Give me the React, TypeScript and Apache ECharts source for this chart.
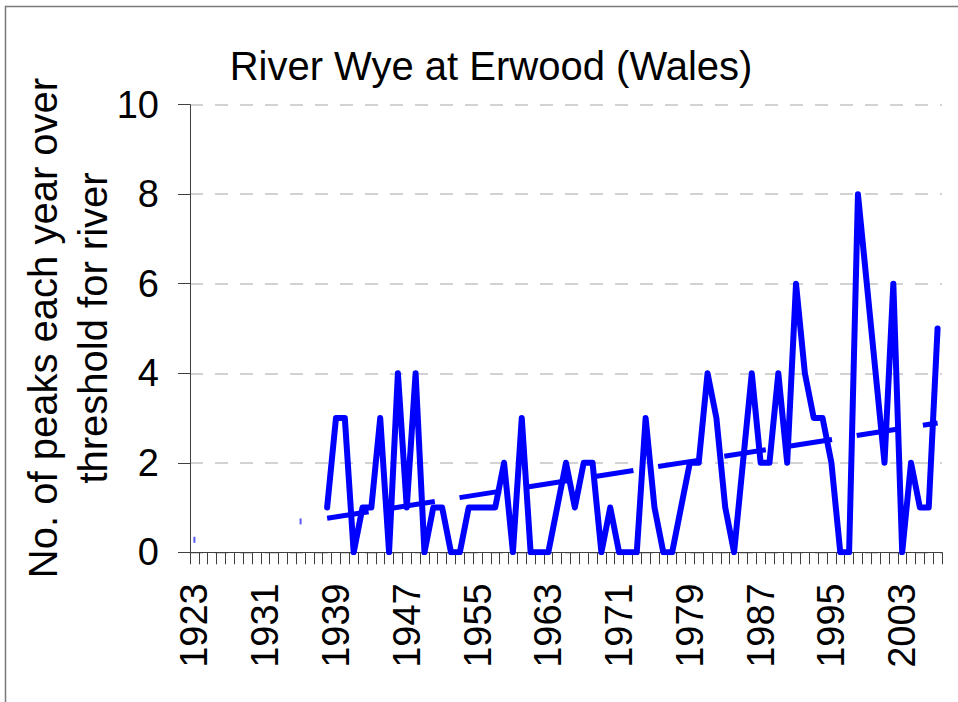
import React, { useEffect, useRef } from "react";
import * as echarts from "echarts";

const FONT = "'Liberation Sans', Arial, sans-serif";

const titleText = "River Wye at Erwood (Wales)";
const yAxisTitle = "No. of peaks each year over\nthreshold for river";

const years = [
  1923, 1924, 1925, 1926, 1927, 1928, 1929, 1930, 1931, 1932, 1933, 1934, 1935, 1936, 1937,
  1938, 1939, 1940, 1941, 1942, 1943, 1944, 1945, 1946, 1947, 1948, 1949, 1950, 1951, 1952,
  1953, 1954, 1955, 1956, 1957, 1958, 1959, 1960, 1961, 1962, 1963, 1964, 1965, 1966, 1967,
  1968, 1969, 1970, 1971, 1972, 1973, 1974, 1975, 1976, 1977, 1978, 1979, 1980, 1981, 1982,
  1983, 1984, 1985, 1986, 1987, 1988, 1989, 1990, 1991, 1992, 1993, 1994, 1995, 1996, 1997,
  1998, 1999, 2000, 2001, 2002, 2003, 2004, 2005, 2006, 2007,
];

// Peaks over threshold, 1938 .. 2007
const peakFirstYear = 1938;
const peaks = [
  1, 3, 3, 0, 1, 1, 3, 0, 4, 1,
  4, 0, 1, 1, 0, 0, 1, 1, 1, 1,
  2, 0, 3, 0, 0, 0, 1, 2, 1, 2,
  2, 0, 1, 0, 0, 0, 3, 1, 0, 0,
  1, 2, 2, 4, 3, 1, 0, 2, 4, 2,
  2, 4, 2, 6, 4, 3, 3, 2, 0, 0,
  8, 6, 4, 2, 6, 0, 2, 1, 1, 5,
];

// Linear trend line end points
const trendYears = [1938, 2007];
const trendValues = [0.76, 2.89];

// Small trend remnants left of the data
const trendMarkYears = [1923, 1935];
const trendMarkValues = [0.28, 0.69];

const yTicks = { min: 0, max: 10, interval: 2 };

export default function App() {
  const ref = useRef<HTMLDivElement>(null);

  useEffect(() => {
    if (!ref.current) return;
    const chart = echarts.init(ref.current, null, { renderer: "svg" });
    const categories = years.map(String);
    const startIdx = years.indexOf(peakFirstYear);
    const peakData = peaks.map((v, i) => [categories[startIdx + i], v]);
    const trendData = trendYears.map((y, i) => [String(y), trendValues[i]]);
    const markData = trendMarkYears.map((y, i) => [String(y), trendMarkValues[i]]);

    chart.setOption({
      animation: false,
      backgroundColor: "#ffffff",
      title: {
        text: titleText,
        left: 486,
        top: 41,
        textAlign: "center",
        textStyle: { fontFamily: FONT, fontSize: 40, fontWeight: "normal", color: "#000" },
      },
      grid: { left: 190, top: 104.7, right: 16, bottom: 149.7, containLabel: false },
      xAxis: {
        type: "category",
        data: categories,
        boundaryGap: true,
        axisLine: { show: true, lineStyle: { color: "#404040", width: 1 } },
        axisTick: { show: true, interval: 0, length: 12, lineStyle: { color: "#404040", width: 1 } },
        axisLabel: {
          interval: 7,
          rotate: 90,
          margin: 31,
          fontSize: 38,
          fontFamily: FONT,
          color: "#000",
        },
        splitLine: { show: false },
      },
      yAxis: {
        type: "value",
        min: yTicks.min,
        max: yTicks.max,
        interval: yTicks.interval,
        axisLine: { show: true, lineStyle: { color: "#404040", width: 1 } },
        axisTick: { show: true, length: 12, lineStyle: { color: "#404040", width: 1 } },
        axisLabel: { fontSize: 38, margin: 31, fontFamily: FONT, color: "#000" },
        splitLine: { show: true, lineStyle: { color: "#c4c4c4", width: 1.5, type: [13, 12] } },
      },
      series: [
        {
          name: "Peaks",
          type: "line",
          data: peakData,
          symbol: "none",
          showSymbol: false,
          lineStyle: { color: "#0000ff", width: 6, cap: "round", join: "round" },
          z: 3,
        },
        {
          name: "Trend",
          type: "line",
          data: trendData,
          symbol: "none",
          showSymbol: false,
          lineStyle: { color: "#0000ff", width: 5, type: [42, 25], cap: "butt" },
          z: 4,
        },
        {
          name: "Trend marks",
          type: "scatter",
          data: markData,
          symbol: "rect",
          symbolSize: [2, 6],
          itemStyle: { color: "#3030ff" },
          z: 4,
        },
      ],
      graphic: [
        {
          type: "rect",
          shape: { x: 5.5, y: 6.5, width: 1000, height: 800 },
          style: { fill: "none", stroke: "#7a7a7a", lineWidth: 1.5 },
          silent: true,
        },
        {
          type: "text",
          x: 68,
          y: 328,
          rotation: Math.PI / 2,
          style: {
            text: yAxisTitle,
            fontSize: 40,
            lineHeight: 50,
            fontFamily: FONT,
            fill: "#000",
            align: "center",
            verticalAlign: "middle",
          },
          silent: true,
        },
      ],
    });
    return () => chart.dispose();
  }, []);

  return (
    <div
      ref={ref}
      style={{ position: "fixed", left: 0, top: 0, width: 958, height: 702, background: "#fff" }}
    />
  );
}
